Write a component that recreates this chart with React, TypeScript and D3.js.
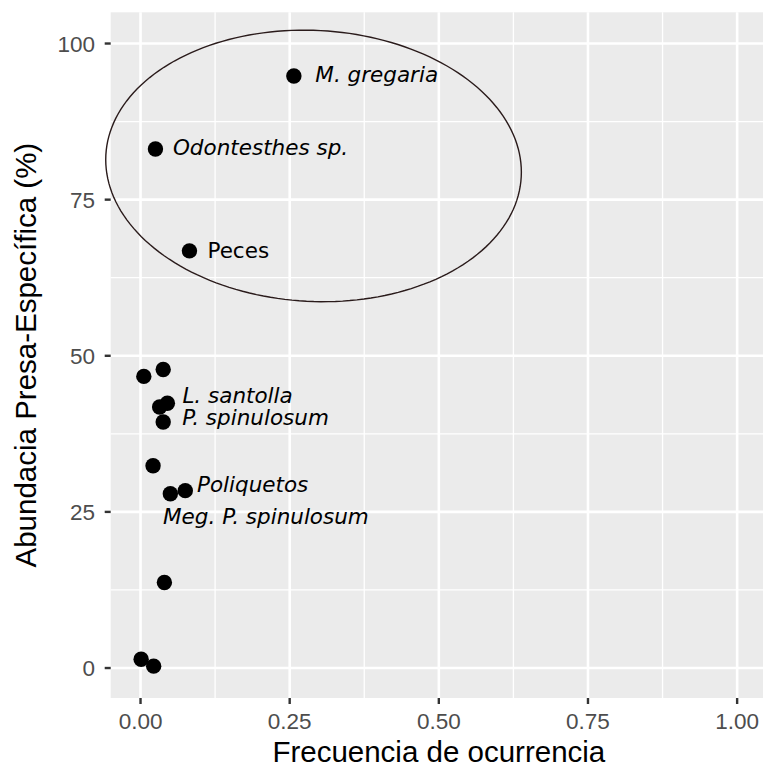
import React from "react";
import * as d3 from "d3";

// Prey items: frequency of occurrence vs. prey-specific abundance (%)
const preyNames = [
  "M. gregaria",
  "Odontesthes sp.",
  "Peces",
  "",
  "",
  "",
  "L. santolla",
  "P. spinulosum",
  "",
  "Poliquetos",
  "Meg. P. spinulosum",
  "",
  "",
  "",
];
const frecuencia = [0.257, 0.025, 0.082, 0.0055, 0.038, 0.032, 0.045, 0.038, 0.021, 0.075, 0.05, 0.04, 0.001, 0.022];
const abundancia = [94.8, 83.1, 66.8, 46.7, 47.8, 41.8, 42.4, 39.4, 32.4, 28.4, 27.9, 13.7, 1.4, 0.3];
const italicLabel = [true, true, false, false, false, false, true, true, false, true, true, false, false, false];

// Label placement (pixel offsets from the point; text is left-anchored, vertically centred)
const labelNudge: Record<number, [number, number]> = {
  0: [21.5, -1.5],
  1: [17.5, -2],
  2: [18, -1],
  6: [15, -8],
  7: [19, -4.5],
  9: [11.7, -6.7],
  10: [-7.3, 22],
};

const xTicks = [0, 0.25, 0.5, 0.75, 1];
const xTickLabels = ["0.00", "0.25", "0.50", "0.75", "1.00"];
const xMinor = [0.125, 0.375, 0.625, 0.875];
const yTicks = [0, 25, 50, 75, 100];
const yTickLabels = ["0", "25", "50", "75", "100"];
const yMinor = [12.5, 37.5, 62.5, 87.5];

// Ellipse highlighting the dominant prey group (centre and radii in data units)
const ellipseCentre = [0.29, 80.4];
const ellipseRadii = [0.3486, 21.7];
const ellipseTiltDeg = 3;

const W = 763;
const H = 767;
const panel = { left: 110.7, top: 12.3, bottom: 698 };

export default function App() {
  const x = d3.scaleLinear().domain([-0.05, 1.05]).range([panel.left, panel.left + 1.1 * 596.6]);
  const y = d3.scaleLinear().domain([-4.8, 105]).range([panel.bottom, panel.top]);
  const [x0, x1] = x.range();
  const [y0, y1] = y.range();

  const cx = x(ellipseCentre[0]);
  const cy = y(ellipseCentre[1]);
  const a = x(ellipseCentre[0] + ellipseRadii[0]) - cx;
  const b = cy - y(ellipseCentre[1] + ellipseRadii[1]);
  const th = (ellipseTiltDeg * Math.PI) / 180;
  const ellipsePts: [number, number][] = d3.range(0, 361, 2).map((deg) => {
    const t = (deg * Math.PI) / 180;
    return [
      cx + a * Math.cos(t) * Math.cos(th) - b * Math.sin(t) * Math.sin(th),
      cy + a * Math.cos(t) * Math.sin(th) + b * Math.sin(t) * Math.cos(th),
    ];
  });
  const ellipsePath = d3.line()(ellipsePts) || "";

  const axisFont = "'Liberation Sans', Arial, sans-serif";
  const labelFont = "'DejaVu Sans', sans-serif";

  return (
    <svg
      width={W}
      height={H}
      style={{ position: "absolute", left: 0, top: 0, background: "#fff" }}
    >
      <rect x={x0} y={y1} width={x1 - x0} height={y0 - y1} fill="#EBEBEB" />
      {xMinor.map((v) => (
        <line key={"xm" + v} x1={x(v)} x2={x(v)} y1={y0} y2={y1} stroke="#fff" strokeWidth={1.3} />
      ))}
      {yMinor.map((v) => (
        <line key={"ym" + v} x1={x0} x2={x1} y1={y(v)} y2={y(v)} stroke="#fff" strokeWidth={1.3} />
      ))}
      {xTicks.map((v) => (
        <line key={"xg" + v} x1={x(v)} x2={x(v)} y1={y0} y2={y1} stroke="#fff" strokeWidth={2.6} />
      ))}
      {yTicks.map((v) => (
        <line key={"yg" + v} x1={x0} x2={x1} y1={y(v)} y2={y(v)} stroke="#fff" strokeWidth={2.6} />
      ))}

      {/* axis ticks and labels */}
      {xTicks.map((v, i) => (
        <g key={"xt" + v}>
          <line x1={x(v)} x2={x(v)} y1={y0} y2={y0 + 6} stroke="#333" strokeWidth={2.4} />
          <text
            x={x(v)}
            y={729.3}
            textAnchor="middle"
            fontFamily={axisFont}
            fontSize={22.5}
            fill="#4D4D4D"
          >
            {xTickLabels[i]}
          </text>
        </g>
      ))}
      {yTicks.map((v, i) => (
        <g key={"yt" + v}>
          <line x1={x0 - 6} x2={x0} y1={y(v)} y2={y(v)} stroke="#333" strokeWidth={2.4} />
          <text
            x={95}
            y={y(v)}
            dy="0.36em"
            textAnchor="end"
            fontFamily={axisFont}
            fontSize={22.5}
            fill="#4D4D4D"
          >
            {yTickLabels[i]}
          </text>
        </g>
      ))}

      {/* points */}
      {frecuencia.map((f, i) => (
        <circle key={"p" + i} cx={x(f)} cy={y(abundancia[i])} r={7.7} fill="#000" />
      ))}

      {/* labels */}
      {preyNames.map((name, i) =>
        name ? (
          <text
            key={"l" + i}
            x={x(frecuencia[i]) + labelNudge[i][0]}
            y={y(abundancia[i]) + labelNudge[i][1]}
            dy="0.36em"
            fontFamily={labelFont}
            fontStyle={italicLabel[i] ? "italic" : "normal"}
            fontSize={21.5}
            fill="#000"
          >
            {name}
          </text>
        ) : null
      )}

      <path d={ellipsePath} fill="none" stroke="#2a1b1b" strokeWidth={1.4} />

      {/* axis titles */}
      <text
        x={(x0 + x1) / 2}
        y={762}
        textAnchor="middle"
        fontFamily={axisFont}
        fontSize={29.5}
        fill="#000"
      >
        Frecuencia de ocurrencia
      </text>
      <text
        transform={`translate(36, ${(y0 + y1) / 2}) rotate(-90)`}
        textAnchor="middle"
        fontFamily={axisFont}
        fontSize={29.5}
        fill="#000"
      >
        Abundacia Presa-Específica (%)
      </text>
    </svg>
  );
}
